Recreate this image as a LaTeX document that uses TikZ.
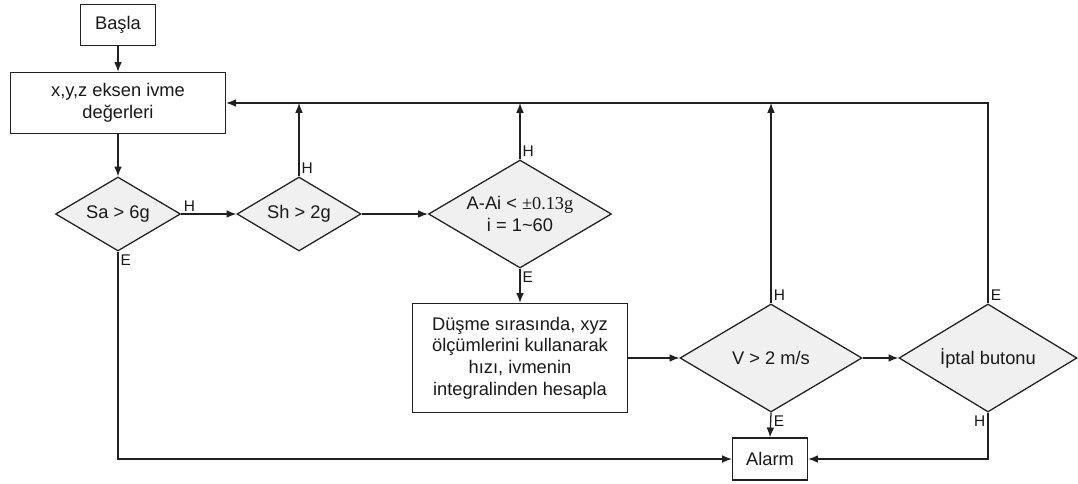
\documentclass[tikz,border=0pt]{standalone}
\usepackage{fontspec}
\setmainfont{Liberation Sans}
\newfontfamily\serifyazi{Liberation Serif}
\usetikzlibrary{shapes.geometric,arrows.meta}

\tikzset{
    kutu/.style={draw=gray!25!black, line width=0.9pt, fill=white, align=center,
        text=gray!20!black, font=\fontsize{13}{15.4}\selectfont, inner sep=0pt},
    karar/.style={diamond, aspect=1.7, draw=gray!25!black, line width=0.9pt,
        fill=gray!12, align=center, text=gray!20!black,
        font=\fontsize{13}{15.4}\selectfont, inner sep=0pt, minimum height=2.7cm},
    ok/.style={draw=gray!25!black, line width=0.9pt, -{Latex[length=7pt,width=5.5pt]}},
    cizgi/.style={draw=gray!25!black, line width=0.9pt},
    etiket/.style={font=\fontsize{11}{12}\selectfont, text=gray!20!black, inner sep=1.5pt}
}

\begin{document}
\begin{tikzpicture}[x=0.025cm, y=-0.025cm]
    \useasboundingbox (0,0) rectangle (1078,484);

    % kutular
    \node[kutu, minimum width=1.875cm, minimum height=1.025cm] (basla) at (118,25) {Başla};
    \node[kutu, minimum width=5.375cm, minimum height=1.525cm] (olcum) at (118,103) {x,y,z eksen ivme\\değerleri};
    \node[kutu, minimum width=5.375cm, minimum height=2.725cm] (hiz) at (520,358)
        {Düşme sırasında, xyz\\ölçümlerini kullanarak\\hızı, ivmenin\\integralinden hesapla};
    \node[kutu, minimum width=1.875cm, minimum height=1.05cm] (alarm) at (770,459) {Alarm};

    % kararlar
    \node[karar, minimum width=3.125cm, minimum height=1.85cm] (sa) at (118,214) {Sa > 6g};
    \node[karar, minimum width=3.1cm, minimum height=1.85cm] (sh) at (299,214) {Sh > 2g};
    \node[karar, minimum width=4.575cm] (aai) at (520,214) {A-Ai < {\serifyazi±0.13g}\\i = 1\textasciitilde60};
    \node[karar, minimum width=4.55cm] (vhiz) at (771,358) {V > 2 m/s};
    \node[karar, minimum width=4.45cm] (iptal) at (988,358) {İptal butonu};

    % akis
    \draw[ok] (basla) -- (olcum);
    \draw[ok] (olcum) -- (sa);
    \draw[ok] (sa.east) -- node[etiket, pos=0, anchor=south west] {H} (sh.west);
    \draw[ok] (sh.east) -- (aai.west);
    \draw[ok] (aai.south) -- node[etiket, pos=0, anchor=north west] {E} (hiz.north);
    \draw[ok] (hiz.east) -- (vhiz.west);
    \draw[ok] (vhiz.east) -- (iptal.west);
    \draw[ok] (vhiz.south) -- node[etiket, pos=0, anchor=north west] {E} (alarm.north);

    % alarma giden
    \draw[ok] (sa.south) -- node[etiket, pos=0, anchor=north west] {E} (sa.south |- alarm.west) -- (alarm.west);
    \draw[ok] (iptal.south) -- node[etiket, pos=0, anchor=north east] {H} (iptal.south |- alarm.east) -- (alarm.east);

    % geri donus
    \coordinate (donus) at (iptal.north |- olcum.east);
    \draw[ok] (iptal.north) -- node[etiket, pos=0, anchor=south west] {E} (donus) -- (olcum.east);
    \draw[ok] (sh.north) -- node[etiket, pos=0, anchor=south west] {H} (sh.north |- olcum.east);
    \draw[ok] (aai.north) -- node[etiket, pos=0, anchor=south west] {H} (aai.north |- olcum.east);
    \draw[ok] (vhiz.north) -- node[etiket, pos=0, anchor=south west] {H} (vhiz.north |- olcum.east);
\end{tikzpicture}
\end{document}
